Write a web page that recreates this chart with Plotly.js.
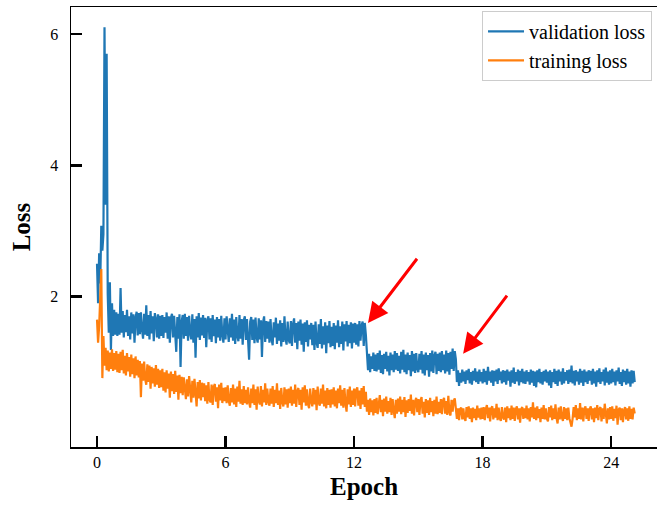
<!DOCTYPE html>
<html>
<head>
<meta charset="utf-8">
<script src="https://cdn.plot.ly/plotly-3.0.1.min.js"></script>
<style>html,body{margin:0;padding:0;background:#fff;}#chart{width:657px;height:505px;}</style>
</head>
<body>
<div id="chart"></div>
<script>
// Epoch sampling step (one value every 0.05 epoch)
const epochStep = 0.05;

// Validation loss (20 values per epoch)
const validationLoss = [
  2.50, 1.90, 2.66, 2.20, 3.08, 2.70, 2.95, 6.10, 3.40, 5.70, 2.05, 1.45, 2.22, 1.19, 1.90, 1.40, 1.80, 1.42, 1.76, 1.40,
  1.74, 1.42, 2.13, 1.45, 1.78, 1.38, 1.72, 1.46, 1.80, 1.40, 1.70, 1.35, 1.76, 1.44, 1.73, 1.30, 1.68, 1.77, 1.41, 1.75,
  1.43, 1.76, 1.50, 1.36, 1.74, 1.42, 1.87, 1.40, 1.72, 1.35, 1.78, 1.44, 1.70, 1.32, 1.75, 1.66, 1.38, 1.73, 1.36, 1.71,
  1.40, 1.72, 1.37, 1.69, 1.45, 1.76, 1.36, 1.70, 1.30, 1.68, 1.74, 1.38, 1.71, 1.42, 1.16, 1.69, 1.36, 1.73, 0.93, 1.62,
  1.72, 1.36, 1.74, 1.40, 1.69, 1.33, 1.71, 1.44, 1.35, 1.73, 1.30, 1.66, 1.07, 1.70, 1.38, 1.75, 1.34, 1.68, 1.41, 1.72,
  1.37, 1.68, 1.23, 1.64, 1.70, 1.35, 1.67, 1.31, 1.72, 1.40, 1.65, 1.29, 1.69, 1.38, 1.66, 1.33, 1.71, 1.42, 1.30, 1.67,
  1.35, 1.70, 1.44, 1.31, 1.67, 1.38, 1.74, 1.33, 1.65, 1.28, 1.69, 1.40, 1.32, 1.72, 1.36, 1.66, 1.27, 1.64, 1.70, 1.34,
  1.66, 1.32, 1.04, 1.62, 1.69, 1.34, 1.65, 1.29, 1.68, 1.38, 1.30, 1.67, 1.35, 1.64, 1.08, 1.61, 1.70, 1.31, 1.63, 1.36,
  1.62, 1.30, 1.66, 1.35, 1.26, 1.61, 1.38, 1.68, 1.28, 1.59, 1.33, 1.64, 1.24, 1.60, 1.31, 1.70, 1.36, 1.27, 1.62, 1.34,
  1.29, 1.63, 1.25, 1.58, 1.67, 1.30, 1.60, 1.20, 1.62, 1.33, 1.65, 1.27, 1.59, 1.16, 1.61, 1.31, 1.64, 1.24, 1.57, 1.35,
  1.60, 1.26, 1.57, 1.19, 1.62, 1.30, 1.22, 1.58, 1.28, 1.66, 1.21, 1.55, 1.27, 1.61, 1.14, 1.56, 1.29, 1.63, 1.23, 1.54,
  1.25, 1.60, 1.20, 1.56, 1.30, 1.64, 1.23, 1.55, 1.28, 1.62, 1.18, 1.58, 1.32, 1.63, 1.24, 1.57, 1.29, 1.61, 1.21, 1.59,
  1.30, 1.60, 1.27, 1.58, 1.24, 1.63, 1.33, 1.56, 1.62, 1.25, 1.60, 1.42, 1.10, 0.88, 1.13, 0.85, 1.09, 0.90, 1.15, 0.87,
  1.12, 0.86, 1.14, 0.89, 1.18, 0.84, 1.11, 0.82, 1.13, 0.90, 1.16, 0.86, 1.10, 0.80, 1.15, 0.88, 1.12, 0.85, 1.17, 0.89,
  1.14, 0.87, 1.10, 0.83, 1.16, 0.89, 1.19, 0.85, 1.12, 0.82, 1.15, 0.88, 1.11, 0.79, 1.17, 0.86, 1.13, 0.84, 1.14, 0.90,
  0.85, 1.13, 0.89, 1.17, 0.83, 1.12, 0.80, 1.15, 0.88, 1.11, 0.78, 1.14, 0.86, 1.18, 0.84, 1.10, 1.16, 0.82, 1.13, 0.87,
  1.15, 0.85, 1.17, 0.88, 1.12, 0.83, 1.18, 0.86, 1.14, 0.81, 1.16, 0.90, 1.21, 0.87, 1.17, 1.05, 0.70, 0.88, 0.64, 0.84,
  0.69, 0.89, 0.71, 0.86, 0.67, 0.88, 0.73, 0.90, 0.68, 0.85, 0.66, 0.87, 0.72, 0.91, 0.70, 0.86, 0.67, 0.89, 0.71, 0.85,
  0.68, 0.90, 0.70, 0.87, 0.66, 0.93, 0.72, 0.86, 0.69, 0.88, 0.64, 0.87, 0.71, 0.89, 0.67, 0.91, 0.73, 0.86, 0.68, 0.88,
  0.70, 0.87, 0.66, 0.89, 0.72, 0.86, 0.63, 0.88, 0.69, 0.92, 0.67, 0.85, 0.71, 0.89, 0.65, 0.87, 0.70, 0.90, 0.68, 0.86,
  0.67, 0.88, 0.71, 0.85, 0.66, 0.89, 0.69, 0.87, 0.64, 0.86, 0.62, 0.88, 0.70, 0.90, 0.68, 0.85, 0.66, 0.87, 0.71, 0.89,
  0.69, 0.86, 0.65, 0.88, 0.61, 0.85, 0.70, 0.90, 0.67, 0.87, 0.64, 0.89, 0.71, 0.86, 0.66, 0.91, 0.68, 0.85, 0.72, 0.88,
  0.67, 0.89, 0.70, 0.95, 0.68, 0.87, 0.65, 0.88, 0.71, 0.86, 0.66, 0.90, 0.69, 0.87, 0.64, 0.89, 0.70, 0.86, 0.67, 0.88,
  0.72, 0.87, 0.66, 0.90, 0.68, 0.86, 0.63, 0.88, 0.70, 0.91, 0.67, 0.85, 0.71, 0.89, 0.65, 0.92, 0.69, 0.86, 0.66, 0.88,
  0.68, 0.90, 0.70, 0.86, 0.65, 0.88, 0.71, 0.92, 0.67, 0.85, 0.64, 0.89, 0.70, 0.87, 0.66, 0.90, 0.68, 0.86, 0.63, 0.88,
  0.68, 0.87, 0.70
];

// Training loss (20 values per epoch)
const trainingLoss = [
  1.65, 1.30, 1.55, 2.10, 2.42, 0.76, 1.40, 0.95, 1.22, 0.88, 1.18, 0.86, 1.15, 0.90, 1.20, 0.87, 1.14, 0.89, 1.17, 0.85,
  1.13, 0.84, 1.16, 0.88, 1.19, 0.83, 1.10, 0.80, 1.14, 0.86, 1.08, 0.78, 1.12, 0.82, 1.06, 0.76, 1.09, 0.80, 1.04, 0.77,
  1.02, 0.47, 0.98, 0.72, 1.01, 0.74, 0.66, 0.97, 0.70, 0.95, 0.60, 0.93, 0.68, 0.91, 0.63, 0.96, 0.66, 0.90, 0.61, 0.88,
  0.62, 0.90, 0.57, 0.85, 0.54, 0.88, 0.60, 0.83, 0.46, 0.86, 0.56, 0.82, 0.52, 0.87, 0.55, 0.80, 0.43, 0.81, 0.53, 0.78,
  0.50, 0.77, 0.52, 0.44, 0.74, 0.48, 0.79, 0.51, 0.39, 0.72, 0.46, 0.75, 0.49, 0.33, 0.70, 0.45, 0.73, 0.42, 0.69, 0.47,
  0.68, 0.41, 0.65, 0.37, 0.70, 0.43, 0.39, 0.66, 0.35, 0.63, 0.67, 0.40, 0.62, 0.30, 0.66, 0.42, 0.69, 0.38, 0.61, 0.41,
  0.62, 0.38, 0.65, 0.41, 0.34, 0.61, 0.39, 0.66, 0.36, 0.60, 0.32, 0.63, 0.40, 0.72, 0.37, 0.59, 0.35, 0.64, 0.38, 0.58,
  0.36, 0.62, 0.40, 0.31, 0.60, 0.38, 0.66, 0.35, 0.59, 0.28, 0.63, 0.41, 0.36, 0.64, 0.33, 0.58, 0.39, 0.68, 0.35, 0.60,
  0.40, 0.34, 0.60, 0.37, 0.64, 0.32, 0.58, 0.38, 0.68, 0.35, 0.57, 0.29, 0.61, 0.39, 0.33, 0.62, 0.36, 0.59, 0.31, 0.60,
  0.38, 0.63, 0.34, 0.58, 0.37, 0.66, 0.32, 0.56, 0.61, 0.35, 0.58, 0.28, 0.62, 0.39, 0.65, 0.34, 0.59, 0.36, 0.30, 0.60,
  0.40, 0.33, 0.61, 0.36, 0.58, 0.27, 0.63, 0.38, 0.34, 0.60, 0.37, 0.66, 0.33, 0.57, 0.30, 0.61, 0.35, 0.58, 0.31, 0.59,
  0.36, 0.62, 0.33, 0.57, 0.30, 0.60, 0.38, 0.65, 0.34, 0.58, 0.31, 0.61, 0.37, 0.25, 0.59, 0.36, 0.63, 0.32, 0.57, 0.35,
  0.60, 0.33, 0.58, 0.62, 0.34, 0.57, 0.29, 0.61, 0.36, 0.64, 0.32, 0.55, 0.25, 0.43, 0.20, 0.45, 0.24, 0.42, 0.19, 0.44,
  0.23, 0.46, 0.21, 0.42, 0.50, 0.24, 0.43, 0.18, 0.45, 0.25, 0.48, 0.22, 0.41, 0.24, 0.46, 0.20, 0.44, 0.26, 0.15, 0.43,
  0.22, 0.45, 0.25, 0.48, 0.21, 0.43, 0.24, 0.47, 0.17, 0.42, 0.23, 0.44, 0.26, 0.51, 0.22, 0.43, 0.19, 0.41, 0.46, 0.24,
  0.44, 0.20, 0.42, 0.47, 0.22, 0.40, 0.16, 0.44, 0.23, 0.42, 0.20, 0.46, 0.24, 0.41, 0.18, 0.43, 0.22, 0.48, 0.21, 0.40,
  0.23, 0.44, 0.21, 0.42, 0.46, 0.22, 0.41, 0.20, 0.49, 0.24, 0.19, 0.43, 0.25, 0.41, 0.45, 0.30, 0.14, 0.30, 0.12, 0.29,
  0.31, 0.13, 0.30, 0.15, 0.11, 0.32, 0.16, 0.33, 0.14, 0.30, 0.09, 0.31, 0.15, 0.29, 0.12, 0.34, 0.16, 0.30, 0.13, 0.31,
  0.14, 0.32, 0.12, 0.29, 0.35, 0.15, 0.31, 0.10, 0.30, 0.33, 0.13, 0.30, 0.16, 0.37, 0.12, 0.31, 0.15, 0.11, 0.32, 0.16,
  0.13, 0.31, 0.09, 0.33, 0.15, 0.30, 0.12, 0.34, 0.14, 0.31, 0.11, 0.29, 0.33, 0.13, 0.30, 0.08, 0.29, 0.32, 0.14, 0.30,
  0.15, 0.34, 0.13, 0.30, 0.10, 0.32, 0.16, 0.39, 0.14, 0.31, 0.12, 0.33, 0.15, 0.29, 0.09, 0.31, 0.14, 0.35, 0.13, 0.30,
  0.14, 0.10, 0.32, 0.16, 0.34, 0.12, 0.30, 0.14, 0.36, 0.15, 0.07, 0.31, 0.13, 0.33, 0.16, 0.11, 0.32, 0.14, 0.30, 0.12,
  0.31, 0.15, 0.07, 0.02, 0.14, 0.32, 0.16, 0.35, 0.12, 0.30, 0.14, 0.38, 0.13, 0.31, 0.10, 0.29, 0.33, 0.14, 0.30, 0.11,
  0.29, 0.33, 0.13, 0.30, 0.09, 0.31, 0.15, 0.35, 0.12, 0.29, 0.32, 0.10, 0.30, 0.14, 0.37, 0.16, 0.07, 0.30, 0.13, 0.32,
  0.14, 0.33, 0.11, 0.29, 0.15, 0.34, 0.05, 0.28, 0.31, 0.12, 0.30, 0.09, 0.27, 0.32, 0.13, 0.30, 0.11, 0.33, 0.14, 0.29,
  0.13, 0.31, 0.22
];

const xTicks = [0, 6, 12, 18, 24];
const yTicks = [2, 4, 6];
const seriesNames = ['validation loss', 'training loss'];

// Red arrows: [tailX, tailY, tipX, tipY] in data units
const arrows = [
  [14.99, 2.60, 12.65, 1.60],
  [19.19, 2.04, 17.09, 1.13]
];

const epochsOf = arr => arr.map((_, i) => +(i * epochStep).toFixed(3));
const FONT = 'Liberation Serif, Times New Roman, serif';

const traces = [
  {x: epochsOf(validationLoss), y: validationLoss, name: seriesNames[0], type: 'scatter', mode: 'lines',
   line: {color: '#1f77b4', width: 2.2}},
  {x: epochsOf(trainingLoss), y: trainingLoss, name: seriesNames[1], type: 'scatter', mode: 'lines',
   line: {color: '#ff7f0e', width: 2.2}}
];

const layout = {
  width: 657, height: 505,
  margin: {l: 71, r: 0, t: 7, b: 58},
  paper_bgcolor: '#fff', plot_bgcolor: '#fff',
  font: {family: FONT, color: '#000', size: 16},
  showlegend: true,
  legend: {
    x: 0.9915, y: 0.991, xanchor: 'right', yanchor: 'top',
    bgcolor: '#fff', bordercolor: '#cccccc', borderwidth: 1,
    font: {family: FONT, size: 20, color: '#000'},
    itemwidth: 36,
    tracegroupgap: 0
  },
  xaxis: {
    range: [-1.214, 26.14],
    tickvals: xTicks, ticktext: xTicks.map(String),
    ticks: 'inside', ticklen: 11, tickwidth: 2.5, tickcolor: '#000',
    showline: true, linecolor: '#000', linewidth: 1.5, mirror: true,
    showgrid: false, zeroline: false,
    tickfont: {family: FONT, size: 16, color: '#000'},
    title: {text: '<b>Epoch</b>', font: {family: FONT, size: 25, color: '#000'}, standoff: 8}
  },
  yaxis: {
    range: [-0.289, 6.41],
    tickvals: yTicks, ticktext: yTicks.map(String),
    ticks: 'inside', ticklen: 11, tickwidth: 2.5, tickcolor: '#000',
    ticklabelstandoff: 8,
    showline: true, linecolor: '#000', linewidth: 1.5, mirror: false,
    showgrid: false, zeroline: false,
    tickfont: {family: FONT, size: 16, color: '#000'},
    title: {text: '<b>Loss</b>', font: {family: FONT, size: 25, color: '#000'}, standoff: 12}
  },
  annotations: arrows.map(a => ({
    x: a[2], y: a[3], ax: a[0], ay: a[1],
    xref: 'x', yref: 'y', axref: 'x', ayref: 'y',
    text: '', showarrow: true, arrowhead: 2, arrowsize: 1.35,
    arrowwidth: 3, arrowcolor: '#ff0000', standoff: 0
  }))
};

Plotly.newPlot('chart', traces, layout, {staticPlot: true, displayModeBar: false});
</script>
</body>
</html>
